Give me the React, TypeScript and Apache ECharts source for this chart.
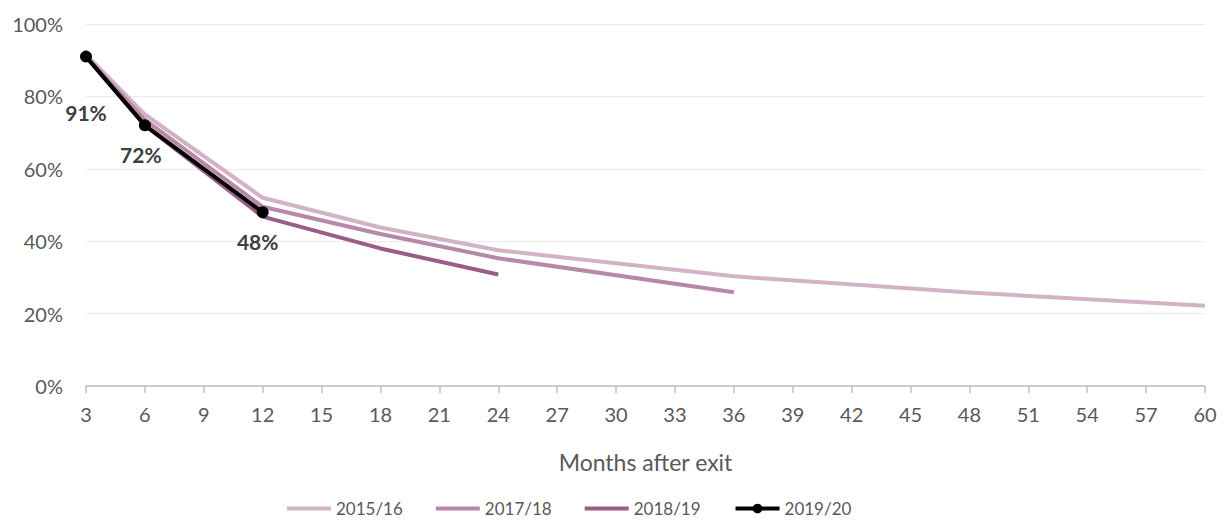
import React, { useEffect, useRef } from "react";
import * as echarts from "echarts";

const months = [3, 6, 12, 18, 24, 36, 48, 60];
const s2015 = [91.5, 75, 52, 43.8, 37.5, 30.3, 25.8, 22.2];
const s2017 = [91, 73.5, 49.5, 42, 35.3, 25.9];
const s2018 = [91, 72, 46.8, 38, 30.8];
const s2019 = [91, 72, 48];
const seriesNames = ["2015/16", "2017/18", "2018/19", "2019/20"];
const labelOffsets: [number, number][] = [[0, 56], [-4, 29], [-5, 29]];
const xTicks = { min: 3, max: 60, interval: 3 };
const yTicks = { min: 0, max: 100, interval: 20 };

const FONT = "Lato, 'Open Sans', sans-serif";
const LINE_ICON = "path://M0,0 L44,0 L44,4 L0,4 Z";

export default function App() {
  const ref = useRef<HTMLDivElement>(null);
  useEffect(() => {
    if (!ref.current) return;
    const chart = echarts.init(ref.current, undefined, { renderer: "svg" });
    const pair = (arr: number[]) => arr.map((v, i) => [months[i], v]);
    chart.setOption({
      animation: false,
      textStyle: { fontFamily: FONT },
      grid: { left: 86, right: 20, top: 24, bottom: 135 },
      legend: {
        top: 495,
        left: 282,
        itemWidth: 44,
        itemHeight: 12,
        itemGap: 33,
        textStyle: { fontSize: 17, color: "#595959", fontFamily: FONT },
        data: [
          { name: seriesNames[0], icon: LINE_ICON },
          { name: seriesNames[1], icon: LINE_ICON },
          { name: seriesNames[2], icon: LINE_ICON },
          { name: seriesNames[3], lineStyle: { width: 4, color: "#000000" } },
        ],
      },
      xAxis: {
        type: "value",
        min: xTicks.min,
        max: xTicks.max,
        interval: xTicks.interval,
        name: "Months after exit",
        nameLocation: "middle",
        nameGap: 64,
        nameTextStyle: { fontSize: 23, color: "#595959" },
        axisLine: { lineStyle: { color: "#BFBFBF", width: 1.5 } },
        axisTick: { show: true, length: 7, lineStyle: { color: "#BFBFBF", width: 1.5 } },
        axisLabel: { fontSize: 20, color: "#595959", margin: 18 },
        splitLine: { show: false },
      },
      yAxis: {
        type: "value",
        min: yTicks.min,
        max: yTicks.max,
        interval: yTicks.interval,
        axisLine: { show: false },
        axisTick: { show: false },
        axisLabel: { fontSize: 20, color: "#595959", margin: 23, formatter: "{value}%" },
        splitLine: { lineStyle: { color: "#EBEBEB", width: 1 } },
      },
      series: [
        {
          name: seriesNames[0],
          type: "line",
          data: pair(s2015),
          symbol: "none",
          lineStyle: { color: "#D3B2C7", width: 4 },
          itemStyle: { color: "#D3B2C7" },
        },
        {
          name: seriesNames[1],
          type: "line",
          data: pair(s2017),
          symbol: "none",
          lineStyle: { color: "#B788A8", width: 4 },
          itemStyle: { color: "#B788A8" },
        },
        {
          name: seriesNames[2],
          type: "line",
          data: pair(s2018),
          symbol: "none",
          lineStyle: { color: "#9A5D88", width: 4 },
          itemStyle: { color: "#9A5D88" },
        },
        {
          name: seriesNames[3],
          type: "line",
          symbol: "circle",
          symbolSize: 12,
          lineStyle: { color: "#000000", width: 4 },
          itemStyle: { color: "#000000" },
          data: s2019.map((v, i) => ({
            value: [months[i], v],
            label: {
              show: true,
              position: "inside",
              offset: labelOffsets[i],
              formatter: `${Math.round(v)}%`,
              fontSize: 21,
              fontWeight: "bold",
              color: "#404040",
              fontFamily: FONT,
            },
          })),
        },
      ],
    });
    return () => chart.dispose();
  }, []);
  return <div ref={ref} style={{ width: 1225, height: 521, position: "absolute", left: 0, top: 0 }} />;
}
